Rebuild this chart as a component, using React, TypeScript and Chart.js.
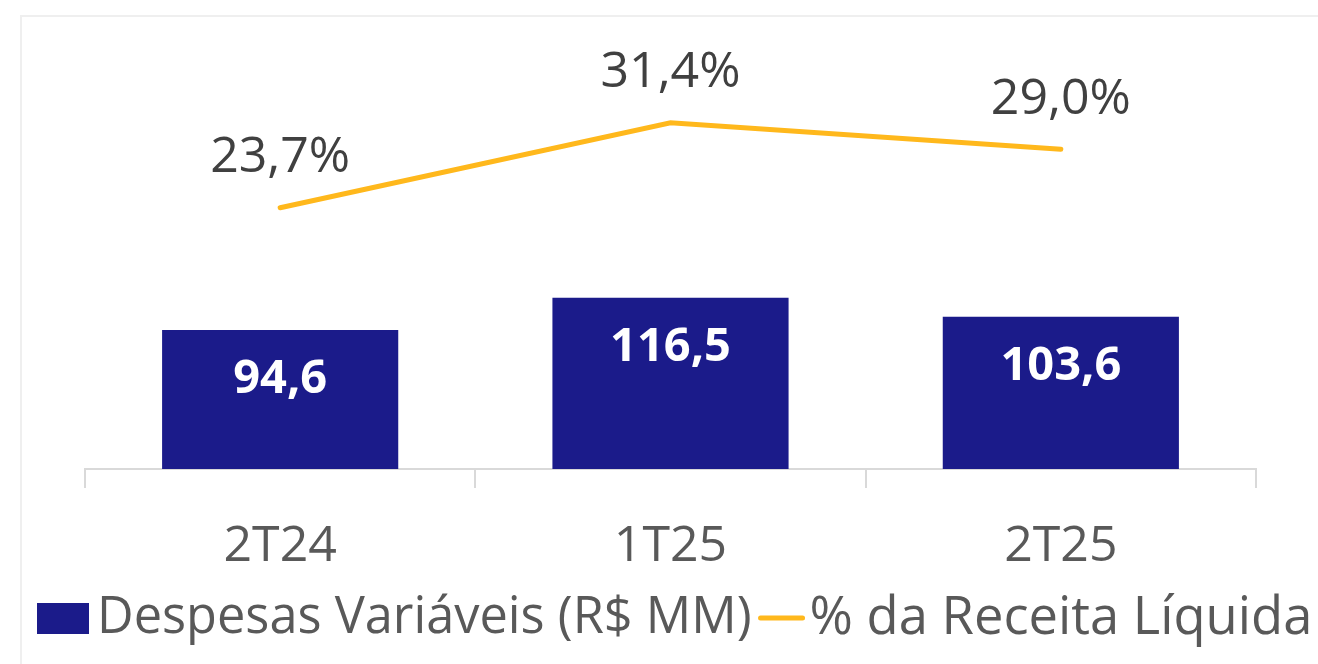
import React, { useEffect, useRef } from "react";
import { Chart, registerables } from "chart.js";

Chart.register(...registerables);

const categories = ["2T24", "1T25", "2T25"];
const despesas = [94.6, 116.5, 103.6];
const pctReceita = [23.7, 31.4, 29.0];
const seriesNames = ["Despesas Variáveis (R$ MM)", "% da Receita Líquida"];

const BAR_COLOR = "#1b1b8a";
const LINE_COLOR = "#ffb81c";
const FONT = "'Open Sans', 'Noto Sans', sans-serif";

const fmt = (v: number) => v.toFixed(1).replace(".", ",");

const framePlugin = {
  id: "frame",
  beforeDraw(chart: any) {
    const ctx = chart.ctx;
    ctx.save();
    ctx.strokeStyle = "#efefef";
    ctx.lineWidth = 2;
    ctx.strokeRect(21, 16, 1400, 800);
    ctx.restore();
  },
};

const labelsPlugin = {
  id: "valueLabels",
  afterDatasetsDraw(chart: any) {
    const ctx = chart.ctx;
    ctx.save();
    ctx.textAlign = "center";
    ctx.textBaseline = "middle";
    const barMeta = chart.getDatasetMeta(0);
    ctx.font = `bold 47px ${FONT}`;
    ctx.fillStyle = "#ffffff";
    barMeta.data.forEach((el: any, i: number) => {
      ctx.fillText(fmt(despesas[i]), el.x, el.y + 50);
    });
    const lineMeta = chart.getDatasetMeta(1);
    ctx.font = `50px ${FONT}`;
    ctx.fillStyle = "#404040";
    lineMeta.data.forEach((el: any, i: number) => {
      ctx.fillText(fmt(pctReceita[i]) + "%", el.x, el.y - 50);
    });
    ctx.restore();
  },
};

const legendPlugin = {
  id: "customLegend",
  afterDraw(chart: any) {
    const ctx = chart.ctx;
    ctx.save();
    ctx.textBaseline = "middle";
    ctx.textAlign = "left";
    const cy = 619;
    let x = 37;
    ctx.fillStyle = BAR_COLOR;
    ctx.fillRect(x, cy - 16, 52, 31);
    x += 52 + 8;
    ctx.fillStyle = "#595959";
    ctx.font = `50.5px ${FONT}`;
    ctx.fillText(seriesNames[0], x, cy);
    x += ctx.measureText(seriesNames[0]).width + 7;
    ctx.strokeStyle = LINE_COLOR;
    ctx.lineWidth = 5;
    ctx.lineCap = "round";
    ctx.beginPath();
    ctx.moveTo(x + 2, cy - 1);
    ctx.lineTo(x + 44, cy - 1);
    ctx.stroke();
    x += 46 + 5;
    ctx.font = `52.5px ${FONT}`;
    ctx.fillText(seriesNames[1], x, cy);
    ctx.restore();
  },
};

export default function App() {
  const ref = useRef<HTMLCanvasElement>(null);
  useEffect(() => {
    if (!ref.current) return;
    const chart = new Chart(ref.current, {
      type: "bar",
      data: {
        labels: categories,
        datasets: [
          {
            type: "bar",
            label: seriesNames[0],
            data: despesas,
            backgroundColor: BAR_COLOR,
            yAxisID: "y",
            categoryPercentage: 1,
            barPercentage: 0.605,
            order: 2,
          },
          {
            type: "line",
            label: seriesNames[1],
            data: pctReceita,
            borderColor: LINE_COLOR,
            backgroundColor: LINE_COLOR,
            borderWidth: 5,
            borderCapStyle: "round",
            pointRadius: 0,
            tension: 0,
            yAxisID: "y1",
            order: 1,
          },
        ],
      } as any,
      options: {
        animation: false,
        responsive: false,
        layout: { padding: { left: 85, right: 62, top: 28, bottom: 0 } },
        plugins: { legend: { display: false }, tooltip: { enabled: false } },
        scales: {
          x: {
            offset: true,
            grid: {
              offset: true,
              drawOnChartArea: false,
              tickLength: 19,
              color: "#d9d9d9",
              lineWidth: 2,
            },
            border: { color: "#d9d9d9", width: 2 },
            ticks: {
              color: "#595959",
              font: { family: FONT, size: 50 },
              padding: 29,
            },
            afterFit(scale: any) {
              scale.height = 195;
            },
          },
          y: { display: false, min: 0, max: 300 },
          y1: { display: false, min: 0, max: 40 },
        },
      } as any,
      plugins: [framePlugin, labelsPlugin, legendPlugin],
    });
    return () => chart.destroy();
  }, []);
  return (
    <div style={{ position: "fixed", left: 0, top: 0, width: 1318, height: 664, background: "#fff" }}>
      <canvas ref={ref} width={1318} height={664} style={{ width: 1318, height: 664 }} />
    </div>
  );
}
